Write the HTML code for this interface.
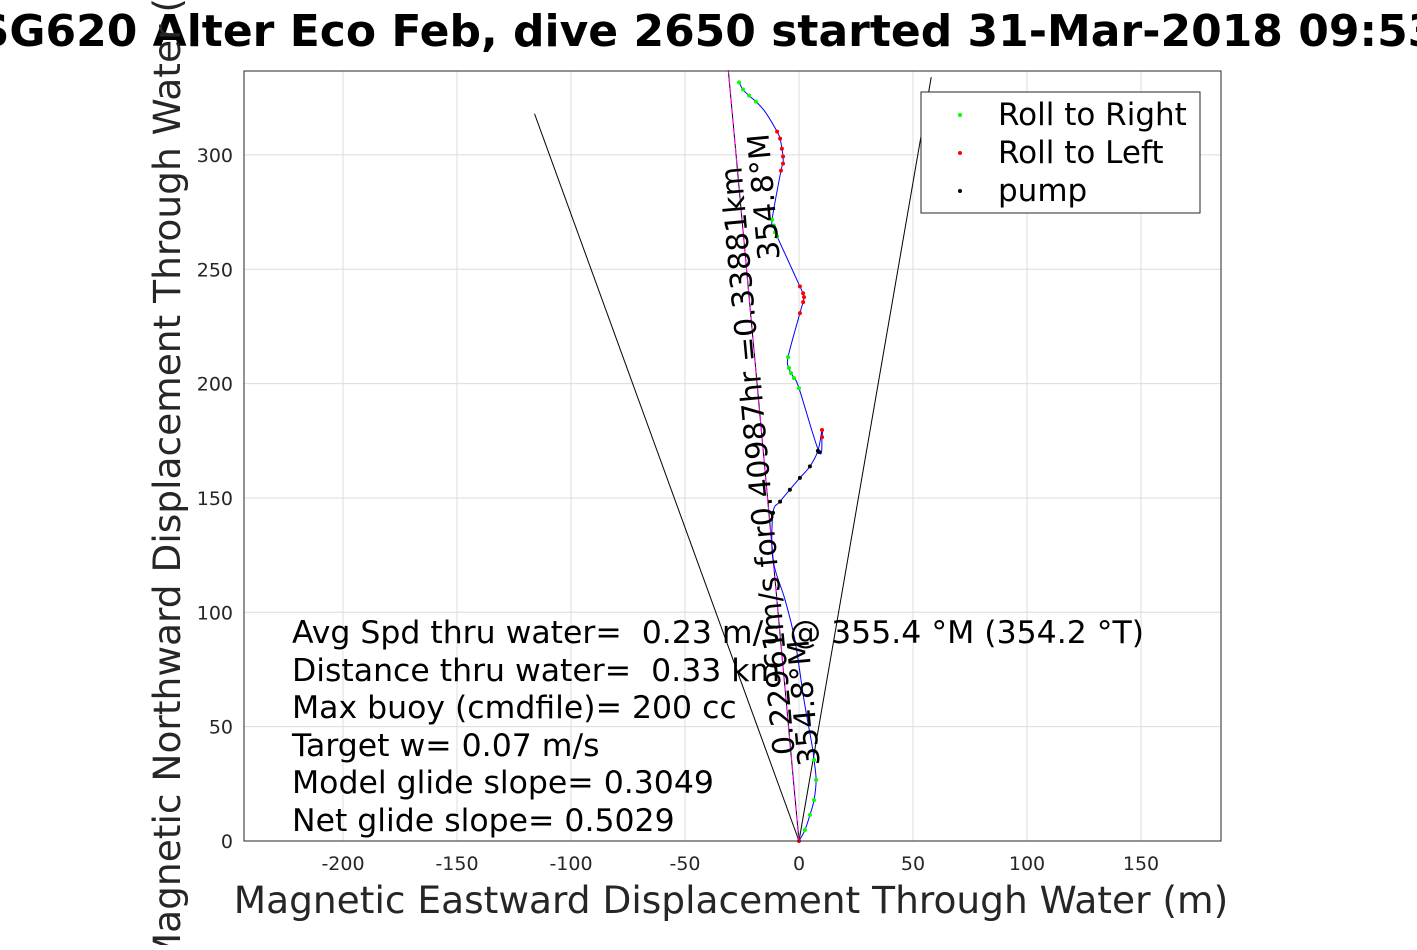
<!DOCTYPE html>
<html><head><meta charset="utf-8"><style>
body{margin:0;background:#fff;width:1417px;height:945px;overflow:hidden;font-family:"Liberation Sans","DejaVu Sans",sans-serif}
</style></head><body>
<svg id="chart" width="1417" height="945" viewBox="0 0 1417 945" xmlns="http://www.w3.org/2000/svg" font-family="DejaVu Sans, Liberation Sans, sans-serif">
<rect x="244" y="71" width="977" height="770" fill="#fff" stroke="none"/>
<g id="grid"></g>
<g id="marks"></g>
<rect x="244" y="71" width="977" height="770" fill="none" stroke="#262626" stroke-width="1"/>
<g id="ticks"></g>
<text x="708" y="46" text-anchor="middle" font-size="44" font-weight="bold" fill="#000">SG620 Alter Eco Feb, dive 2650 started 31-Mar-2018 09:53</text>
<text x="731" y="913" text-anchor="middle" font-size="37.5" fill="#262626">Magnetic Eastward Displacement Through Water (m)</text>
<text transform="translate(180,456) rotate(-90)" text-anchor="middle" font-size="37.5" fill="#262626">Magnetic Northward Displacement Through Water (m)</text>
<g font-size="31.5" fill="#000" xml:space="preserve">
<text x="292" y="643" xml:space="preserve">Avg Spd thru water=  0.23 m/s @ 355.4 °M (354.2 °T)</text>
<text x="292" y="681" xml:space="preserve">Distance thru water=  0.33 km</text>
<text x="292" y="718">Max buoy (cmdfile)= 200 cc</text>
<text x="292" y="756">Target w= 0.07 m/s</text>
<text x="292" y="793">Model glide slope= 0.3049</text>
<text x="292" y="831">Net glide slope= 0.5029</text>
</g>
<g>
<rect x="921" y="92" width="279" height="121" fill="#fff" stroke="#262626"/>
<circle cx="960" cy="115" r="2" fill="#0f0"/><text x="998" y="125" font-size="31">Roll to Right</text>
<circle cx="960" cy="153" r="2" fill="#f00"/><text x="998" y="163" font-size="31">Roll to Left</text>
<circle cx="960" cy="191" r="2" fill="#000"/><text x="998" y="201" font-size="31">pump</text>
</g>
</svg>
<script>
const xTicks=[-200,-150,-100,-50,0,50,100,150];
const yTicks=[0,50,100,150,200,250,300];
const trackX=[0,2.6,4.8,6.6,7.5,6.6,5.7,2.2,-1.8,-6.1,-11.4,-11.4,-8.3,-4.0,0.4,4.8,8.3,10.1,10.1,8.8,0,-2.2,-3.5,-4.4,-4.8,0.4,1.8,2.2,1.8,0.4,-9.6,-10.5,-11.0,-11.8,-7.9,-7.0,-7.0,-7.5,-8.3,-9.6,-14.9,-18.9,-21.9,-24.6,-26.3];
const trackY=[0,4.8,11.4,17.9,26.7,35.4,42.0,61.6,87.9,105.4,122.9,143.5,148.4,153.6,158.8,163.8,170.6,179.7,176.6,170.1,198.0,202.4,204.6,206.8,211.6,230.8,235.6,237.8,239.5,242.5,264.3,266.1,269.1,271.7,293.1,296.2,299.3,302.7,307.1,310.2,318.9,323.3,325.9,328.6,331.7];
const trackType=["L","R","R","R","R","R","B","B","B","B","B","P","P","P","P","P","P","L","L","P","R","R","R","R","R","L","L","L","L","L","R","R","R","R","L","L","L","L","L","L","B","R","R","R","R"];
const headingLinesX=[-116,58,-31];
const headingLinesY=[318,334,337];
const X=v=>799+v*2.28, Y=v=>841-v*2.287;
const NS="http://www.w3.org/2000/svg";
function mk(t,a,p){const e=document.createElementNS(NS,t);for(const k in a)e.setAttribute(k,a[k]);p.appendChild(e);return e;}
const grid=document.getElementById('grid'),ticks=document.getElementById('ticks'),marks=document.getElementById('marks');
xTicks.forEach(v=>{
const l=mk('line',{x1:X(v),x2:X(v),y1:71,y2:841,stroke:'#dcdcdc','stroke-width':1},grid);


const t=mk('text',{x:X(v),y:870,'text-anchor':'middle','font-size':19,fill:'#262626'},ticks);t.textContent=v;


});
yTicks.forEach(v=>{
const l=mk('line',{x1:244,x2:1221,y1:Y(v),y2:Y(v),stroke:'#dcdcdc','stroke-width':1},grid);


const t=mk('text',{x:233,y:Y(v)+7,'text-anchor':'end','font-size':19,fill:'#262626'},ticks);t.textContent=v;


});
headingLinesX.forEach((hx,i)=>{
const l=mk('line',{x1:X(0),y1:Y(0),x2:X(hx),y2:Y(headingLinesY[i]),stroke:'#000','stroke-width':1},marks);


});
const mg=mk('line',{x1:X(0),y1:Y(0),x2:X(-31),y2:Y(337),stroke:'#f0f','stroke-width':1.2,'stroke-dasharray':'6,4'},marks);


const P=trackX.map((v,i)=>[X(v),Y(trackY[i])]);
let d='M'+P[0][0]+','+P[0][1];
for(let i=0;i<P.length-1;i++){
const p0=P[Math.max(i-1,0)],p1=P[i],p2=P[i+1],p3=P[Math.min(i+2,P.length-1)];
const c1=[p1[0]+(p2[0]-p0[0])/6,p1[1]+(p2[1]-p0[1])/6],c2=[p2[0]-(p3[0]-p1[0])/6,p2[1]-(p3[1]-p1[1])/6];
d+=`C${c1[0]},${c1[1]} ${c2[0]},${c2[1]} ${p2[0]},${p2[1]}`;
}
const tr=mk('path',{d:d,fill:'none',stroke:'#00f','stroke-width':1},marks);


const col={R:'#0f0',L:'#f00',P:'#000',B:'#00f'};
trackX.forEach((v,i)=>{
if(trackType[i]==='B')return;
const c=mk('circle',{cx:X(v),cy:Y(trackY[i]),r:2,fill:col[trackType[i]]},marks);


});
function rt(txt,x,y,fs){const t=mk('text',{transform:`translate(${x},${y}) rotate(-95.2)`,'font-size':fs,'text-anchor':'middle',fill:'#000'},marks);t.textContent=txt;return t;}
const a=rt('0.22961m/s for0.40987hr =0.33881km',768,460,30);
const b=rt('354.8°M',774,196,30);
const c=rt('354.8°M',814,702,30);
</script>
</body></html>
